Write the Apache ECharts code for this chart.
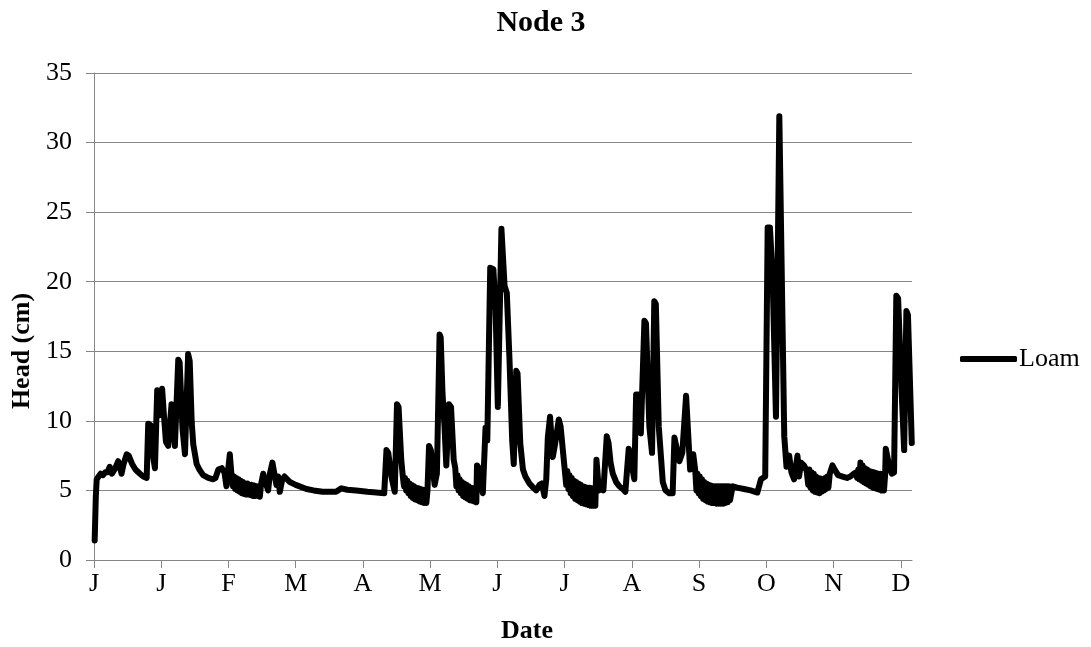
<!DOCTYPE html>
<html>
<head>
<meta charset="utf-8">
<title>Node 3</title>
<script src="https://cdn.jsdelivr.net/npm/echarts@6/dist/echarts.min.js"></script>
<style>
  html, body { margin: 0; padding: 0; background: #ffffff; }
  #chart { width: 1091px; height: 647px; }
</style>
</head>
<body>
<div id="chart"></div>
<script>
// Pressure head at node 3 for a loam column, one year of simulation.
// Each entry is [day of year, head in cm].
const headJanApr = [
  [0.3, 1.4], [0.8, 4.5], [1.2, 5.8], [2, 6.0], [3, 6.2], [4, 6.1], [5, 6.3], [6, 6.3],
  [7, 6.7], [8, 6.2], [8.6, 6.1], [9.5, 6.6], [10.8, 7.1], [11.5, 6.7], [12.3, 6.2],
  [13.2, 6.9], [14.6, 7.6], [15.5, 7.5], [17, 6.9], [18.5, 6.5], [20.5, 6.2], [22, 6.0],
  [23.5, 5.9], [24.2, 9.8], [25.2, 9.7], [26.5, 7.3], [27.2, 6.6], [28.2, 12.2],
  [29.3, 10.4], [30.4, 12.3], [31.2, 10.4], [32.1, 8.5], [33.1, 8.2], [34.6, 11.2],
  [35.3, 9.9], [36.1, 8.2], [37.6, 14.4], [38.2, 14.2], [39.5, 9.4], [40.6, 7.6],
  [42.0, 14.8], [42.7, 14.3], [43.6, 9.9], [44.3, 8.3], [45.8, 6.9], [47, 6.5],
  [48.7, 6.1], [51, 5.9], [53.2, 5.8], [54.2, 5.9], [55.5, 6.5], [57, 6.6], [58.2, 6.3],
  [59.1, 5.3], [60.6, 7.6], [61.3, 6.2],
  [62, 5.3], [62.5, 6.0], [63, 5.1], [63.5, 5.9], [64, 5.0], [64.5, 5.8], [65, 4.9],
  [65.5, 5.7], [66, 4.8], [66.5, 5.6], [67, 4.75], [67.5, 5.5], [68, 4.7], [68.5, 5.5],
  [69, 4.7], [69.5, 5.4], [70, 4.65], [70.5, 5.4], [71, 4.6], [71.5, 5.35], [72, 4.6],
  [72.5, 5.3], [73, 4.6], [73.5, 5.3], [74, 4.55], [74.5, 5.4],
  [75.5, 6.2], [76.5, 5.6], [77.7, 5.0], [78.5, 6.2], [79.6, 7.0], [80.5, 6.2],
  [81.4, 5.4], [82.2, 6.0], [82.9, 4.9], [84, 5.8], [85, 6.0], [87.4, 5.6], [90, 5.4],
  [94.8, 5.1], [98, 5.0], [102, 4.9], [108, 4.9], [110.4, 5.15], [113, 5.05],
  [117, 5.0], [122, 4.9], [126, 4.85], [129.5, 4.8]
];

const headMayJul = [
  [130.5, 7.9], [131.3, 7.7], [132.7, 6.0], [134.2, 4.9], [135.2, 11.2], [135.9, 11.0],
  [137.1, 7.2], [137.8, 6.0],
  [138.3, 5.3], [138.8, 5.9], [139.3, 5.0], [139.8, 5.7], [140.3, 4.8], [140.8, 5.5],
  [141.3, 4.6], [141.8, 5.4], [142.3, 4.45], [142.8, 5.3], [143.3, 4.35], [143.8, 5.2],
  [144.3, 4.3], [144.8, 5.15], [145.3, 4.2], [145.8, 5.1], [146.3, 4.15], [146.8, 5.05],
  [147.3, 4.1], [147.8, 5.0], [148.3, 4.1], [148.8, 5.0],
  [149.5, 8.2], [150.3, 7.9], [151.2, 6.5], [152, 5.4], [153, 6.2], [153.5, 6.2],
  [154.2, 16.2], [154.7, 16.0], [155.5, 12.0], [156.4, 9.6], [157.2, 6.8], [158.4, 11.2],
  [159.3, 11.0], [160.5, 7.2], [161.2, 6.6],
  [161.7, 5.3], [162.2, 6.1], [162.7, 5.0], [163.2, 5.8], [163.7, 4.8], [164.2, 5.6],
  [164.7, 4.6], [165.2, 5.5], [165.7, 4.5], [166.2, 5.4], [166.7, 4.4], [167.2, 5.3],
  [167.7, 4.3], [168.2, 5.2], [168.7, 4.25], [169.2, 5.15], [169.7, 4.2], [170.2, 5.1],
  [170.6, 4.15],
  [170.9, 6.8], [171.8, 6.6], [172.6, 5.5], [173.5, 4.8], [174.7, 9.5], [175.5, 8.6],
  [176.8, 21.0], [178.2, 20.9], [179.2, 18.0], [180.2, 11.0], [180.9, 11.0],
  [181.8, 23.8], [182.3, 23.7], [183.2, 19.7], [184.2, 19.2], [185.4, 14.4],
  [186.6, 8.6], [187.3, 6.9], [188.4, 13.6], [189, 13.4], [190.2, 8.4], [191.4, 6.5],
  [192.5, 6.0], [194.3, 5.5], [196, 5.2], [197.3, 5.0], [198.8, 5.4], [199.8, 5.5],
  [201, 4.6], [201.8, 5.8], [202.5, 8.8], [203.5, 10.3], [204.7, 7.4], [205.8, 8.4],
  [207.4, 10.1], [208.2, 9.6], [209.2, 7.9], [210, 8.0],
  [210.7, 5.4], [211.2, 6.4], [211.7, 5.1], [212.2, 6.1], [212.7, 4.8], [213.2, 5.9],
  [213.7, 4.6], [214.2, 5.7], [214.7, 4.4], [215.2, 5.6], [215.7, 4.3], [216.2, 5.5],
  [216.7, 4.2], [217.2, 5.4], [217.7, 4.1], [218.2, 5.3], [218.7, 4.05], [219.2, 5.25],
  [219.7, 4.0], [220.2, 5.2], [220.7, 3.95], [221.2, 5.2], [221.7, 3.9], [222.2, 5.15],
  [222.7, 3.9], [223.2, 5.1], [223.7, 3.9]
];

const headAugOct = [
  [224.2, 7.2], [225.3, 5.0], [226.3, 5.6], [227.3, 5.0], [228.8, 8.9], [229.6, 8.4],
  [230.5, 7.0], [231.5, 6.2], [233, 5.6], [234.4, 5.3], [236, 5.1], [237.1, 4.9],
  [238.6, 8.0], [239.5, 7.6], [240.3, 6.5], [241.1, 5.8], [241.9, 11.9], [242.8, 11.9],
  [244, 9.1], [245.6, 17.2], [246.3, 17.0], [247.8, 9.6], [249, 7.7], [250, 18.6],
  [250.7, 18.4], [252, 9.6], [253.8, 5.6], [255, 5.0], [256.7, 4.8], [258.2, 4.8],
  [259, 8.8], [259.8, 8.9], [261.2, 7.1], [262.5, 7.7], [264.2, 11.8], [264.9, 11.7],
  [266, 6.5], [267.4, 7.6], [268.3, 6.4],
  [268.8, 5.0], [269.3, 6.2], [269.8, 4.8], [270.3, 6.0], [270.8, 4.6], [271.3, 5.8],
  [271.8, 4.4], [272.3, 5.6], [272.8, 4.3], [273.3, 5.5], [273.8, 4.2], [274.3, 5.4],
  [274.8, 4.15], [275.3, 5.35], [275.8, 4.1], [276.3, 5.3], [276.8, 4.1], [277.3, 5.3],
  [277.8, 4.05], [278.3, 5.3], [278.8, 4.05], [279.3, 5.3], [279.8, 4.05], [280.3, 5.3],
  [280.8, 4.05], [281.3, 5.3], [281.8, 4.1], [282.3, 5.3], [282.8, 4.15], [283.3, 5.3],
  [283.8, 4.3],
  [285, 5.3], [287, 5.2], [290, 5.1], [293, 5.0], [296, 4.85], [297.6, 5.8],
  [299.5, 6.0], [300.6, 23.9], [301.6, 23.9], [302.8, 20.4], [304.3, 10.3],
  [304.9, 10.3], [305.8, 31.9], [306.5, 31.8], [308, 8.9], [309, 6.7], [310.2, 7.5],
  [311.2, 6.3], [312.4, 5.8], [313.9, 7.5], [314.6, 6.0], [315.5, 7.0], [316.8, 6.8],
  [318, 6.4]
];

const headNovDec = [
  [318.7, 5.4], [319.2, 6.5], [319.7, 5.2], [320.2, 6.3], [320.7, 5.0], [321.2, 6.2],
  [321.7, 4.9], [322.2, 6.0], [322.7, 4.85], [323.2, 5.9], [323.7, 4.8], [324.2, 5.85],
  [324.7, 4.9], [325.2, 5.8], [325.7, 5.0], [326.2, 5.9], [326.7, 5.1], [327.2, 6.0],
  [327.7, 5.2], [328.3, 6.2],
  [329.5, 6.8], [330.5, 6.5], [332, 6.1], [334, 6.0], [336, 5.9], [337.5, 6.0],
  [339, 6.2], [340, 6.3],
  [340.5, 5.9], [341, 6.5], [341.5, 5.8], [342, 7.0], [342.5, 5.7], [343, 6.8],
  [343.5, 5.6], [344, 6.6], [344.5, 5.5], [345, 6.5], [345.5, 5.4], [346, 6.4],
  [346.5, 5.3], [347, 6.35], [347.5, 5.2], [348, 6.3], [348.5, 5.15], [349, 6.25],
  [349.5, 5.1], [350, 6.2], [350.5, 5.05], [351, 6.2], [351.5, 5.0], [352, 6.15],
  [352.5, 5.0], [353, 6.1],
  [353.3, 8.0], [354, 7.9], [355, 6.6], [356, 6.2], [357, 6.3], [358, 19.0],
  [358.8, 18.8], [360.4, 12.0], [361.5, 7.9], [362.5, 17.9], [363.2, 17.6],
  [364.9, 8.4]
];

// Month tick positions (days) and their one-letter labels
const tickDays = [0, 30, 60, 90, 120, 150, 180, 210, 240, 270, 300, 330, 360];
const monthLetters = ['J', 'J', 'F', 'M', 'A', 'M', 'J', 'J', 'A', 'S', 'O', 'N', 'D'];

const seriesName = 'Loam';
const serif = '"Liberation Serif", "Times New Roman", Times, serif';
const axisGray = '#868686';

const loamHead = headJanApr.concat(headMayJul, headAugOct, headNovDec);

const chart = echarts.init(document.getElementById('chart'), null, { renderer: 'canvas' });

chart.setOption({
  animation: false,
  backgroundColor: '#ffffff',
  grid: { left: 94, right: 179, top: 73, bottom: 87, containLabel: false },
  legend: {
    data: [seriesName],
    left: 960,
    top: 346,
    orient: 'vertical',
    icon: 'roundRect',
    itemWidth: 57,
    itemHeight: 6,
    padding: 0,
    selectedMode: false,
    itemStyle: { color: '#000000' },
    textStyle: { fontFamily: serif, fontSize: 26, color: '#000000', padding: [0, 0, 0, -3] }
  },
  xAxis: {
    type: 'value',
    min: 0,
    max: 365,
    interval: 30,
    axisLine: { show: true, lineStyle: { color: axisGray, width: 1 } },
    axisTick: { show: true, inside: false, length: 8, customValues: tickDays,
                lineStyle: { color: axisGray, width: 1 } },
    axisLabel: {
      customValues: tickDays,
      margin: 11,
      fontFamily: serif,
      fontSize: 26,
      color: '#000000',
      formatter: function (v) {
        const i = tickDays.indexOf(v);
        return i >= 0 ? monthLetters[i] : '';
      }
    },
    splitLine: { show: false }
  },
  yAxis: {
    type: 'value',
    min: 0,
    max: 35,
    interval: 5,
    axisLine: { show: true, lineStyle: { color: axisGray, width: 1 } },
    axisTick: { show: true, inside: false, length: 8, lineStyle: { color: axisGray, width: 1 } },
    axisLabel: { margin: 22, fontFamily: serif, fontSize: 26, color: '#000000' },
    splitLine: { show: true, lineStyle: { color: axisGray, width: 1 } }
  },
  graphic: [
    {
      type: 'text', x: 541, y: 23,
      style: { text: 'Node 3', fontFamily: serif, fontSize: 30, fontWeight: 'bold', fill: '#000000',
               align: 'center', verticalAlign: 'middle', textAlign: 'center', textVerticalAlign: 'middle' }
    },
    {
      type: 'text', x: 527, y: 631,
      style: { text: 'Date', fontFamily: serif, fontSize: 26, fontWeight: 'bold', fill: '#000000',
               align: 'center', verticalAlign: 'middle', textAlign: 'center', textVerticalAlign: 'middle' }
    },
    {
      type: 'text', x: 22, y: 351, rotation: Math.PI / 2,
      style: { text: 'Head (cm)', fontFamily: serif, fontSize: 26, fontWeight: 'bold', fill: '#000000',
               align: 'center', verticalAlign: 'middle', textAlign: 'center', textVerticalAlign: 'middle' }
    }
  ],
  series: [
    {
      name: seriesName,
      type: 'line',
      data: loamHead,
      showSymbol: false,
      symbol: 'none',
      smooth: false,
      color: '#000000',
      lineStyle: { color: '#000000', width: 6, cap: 'round', join: 'round' },
      emphasis: { disabled: true }
    }
  ]
});
</script>
</body>
</html>
